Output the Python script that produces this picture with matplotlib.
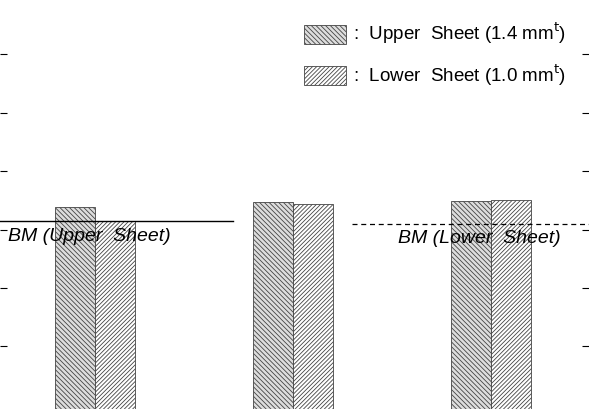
import matplotlib
matplotlib.use("Agg")
import matplotlib.pyplot as plt
from matplotlib.patches import Patch

plt.rcParams['font.family'] = ['Liberation Sans', 'DejaVu Sans']
plt.rcParams['hatch.linewidth'] = 0.6

groups = [0, 1, 2]
upper = [3.39, 3.47, 3.49]
lower = [3.15, 3.44, 3.51]
bm_upper = 3.15
bm_lower = 3.10
labels = [r':  Upper  Sheet (1.4 mm$^{\mathrm{t}}$)', r':  Lower  Sheet (1.0 mm$^{\mathrm{t}}$)']

fig = plt.figure(figsize=(5.89, 4.09), dpi=100)
ax = fig.add_axes([0, 0, 1, 1])
w = 0.202
base = -1
ax.bar([g - w/2 for g in groups], [u - base for u in upper], w, bottom=base, color='#dddddd',
       edgecolor='#444444', hatch='\\\\\\\\\\\\\\', linewidth=0.6)
ax.bar([g + w/2 for g in groups], [l - base for l in lower], w, bottom=base, color='white',
       edgecolor='#444444', hatch='////////', linewidth=0.6)
ax.set_xlim(-0.48, 2.495)
ax.set_ylim(-0.07, 6.93)
ax.plot([-0.48, 0.697], [bm_upper, bm_upper], color='black', lw=1)
ax.plot([1.298, 2.495], [bm_lower, bm_lower], color='black', lw=0.9, ls=(0, (4, 3)))
ax.text(-0.44, 2.88, 'BM (Upper  Sheet)', style='italic', fontsize=14, va='center')
ax.text(1.53, 2.85, 'BM (Lower  Sheet)', style='italic', fontsize=14, va='center')
for s in ax.spines.values():
    s.set_visible(False)
ax.set_xticks([])
ax.set_yticks([1, 2, 3, 4, 5, 6])
ax.tick_params(axis='y', direction='in', left=True, right=True, labelleft=False, length=5)
handles = [Patch(facecolor='#dddddd', edgecolor='#444444', hatch='\\\\\\\\\\\\\\', linewidth=0.6),
           Patch(facecolor='white', edgecolor='#444444', hatch='////////', linewidth=0.6)]
ax.legend(handles, labels, loc='upper right', bbox_to_anchor=(0.99, 0.99), frameon=False,
          fontsize=13.5, handlelength=2.2, handleheight=1.2, labelspacing=0.85, handletextpad=0.4)
fig.savefig('out.png', dpi=100)
